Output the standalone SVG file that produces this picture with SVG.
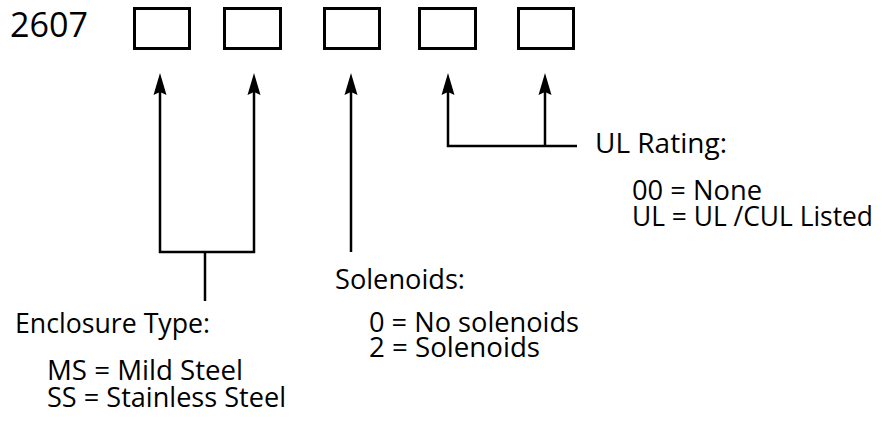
<svg xmlns="http://www.w3.org/2000/svg" width="886" height="422" viewBox="0 0 886 422">
  <style>
    .box { fill: #ffffff; stroke: #000000; stroke-width: 3; }
    .wire { fill: none; stroke: #000000; stroke-width: 2.5; }
    .lbl { font-family: "Open Sans", "Noto Sans", sans-serif; font-size: 27px; fill: #000000; }
    .num { font-family: "Open Sans", "Noto Sans", sans-serif; font-size: 35px; fill: #000000; }
  </style>
  <defs>
    <marker id="arrow" viewBox="-14 -8 26 16" markerWidth="26" markerHeight="16" refX="0" refY="0" orient="auto-start-reverse" markerUnits="userSpaceOnUse">
      <path d="M10,0 L-12,-6.5 L-9,0 L-12,6.5 Z" fill="#000000"/>
    </marker>
  </defs>
  <rect width="886" height="422" fill="#ffffff"/>

  <g id="code">
    <text class="num" x="10" y="37" textLength="78" lengthAdjust="spacingAndGlyphs">2607</text>
  </g>
  <g id="box1"><rect class="box" x="134.5" y="8.5" width="55" height="40"/></g>
  <g id="box2"><rect class="box" x="224.5" y="8.5" width="56" height="40"/></g>
  <g id="box3"><rect class="box" x="324.5" y="8.5" width="55" height="40"/></g>
  <g id="box4"><rect class="box" x="419.5" y="8.5" width="56" height="40"/></g>
  <g id="box5"><rect class="box" x="518.5" y="8.5" width="55" height="40"/></g>

  <g id="connectors">
    <path class="wire" d="M160,83 V252 H254 V83" marker-start="url(#arrow)" marker-end="url(#arrow)"/>
    <path class="wire" d="M205,252 V301"/>
    <path class="wire" d="M351,252 V83" marker-end="url(#arrow)"/>
    <path class="wire" d="M577,146 H448 V83" marker-end="url(#arrow)"/>
    <path class="wire" d="M545,146 V83" marker-end="url(#arrow)"/>
  </g>

  <g id="enclosure">
    <text class="lbl" x="15" y="333" textLength="195" lengthAdjust="spacingAndGlyphs">Enclosure Type:</text>
    <text class="lbl" x="47" y="380" textLength="196" lengthAdjust="spacingAndGlyphs">MS = Mild Steel</text>
    <text class="lbl" x="47" y="407" textLength="239" lengthAdjust="spacingAndGlyphs">SS = Stainless Steel</text>
  </g>
  <g id="solenoids">
    <text class="lbl" x="335" y="289" textLength="130" lengthAdjust="spacingAndGlyphs">Solenoids:</text>
    <text class="lbl" x="369" y="332" textLength="210" lengthAdjust="spacingAndGlyphs">0 = No solenoids</text>
    <text class="lbl" x="369" y="357" textLength="171" lengthAdjust="spacingAndGlyphs">2 = Solenoids</text>
  </g>
  <g id="ul-rating">
    <text class="lbl" x="595" y="153" textLength="132" lengthAdjust="spacingAndGlyphs">UL Rating:</text>
    <text class="lbl" x="632" y="200" textLength="130" lengthAdjust="spacingAndGlyphs">00 = None</text>
    <text class="lbl" x="632" y="226" textLength="241" lengthAdjust="spacingAndGlyphs">UL = UL /CUL Listed</text>
  </g>
</svg>
